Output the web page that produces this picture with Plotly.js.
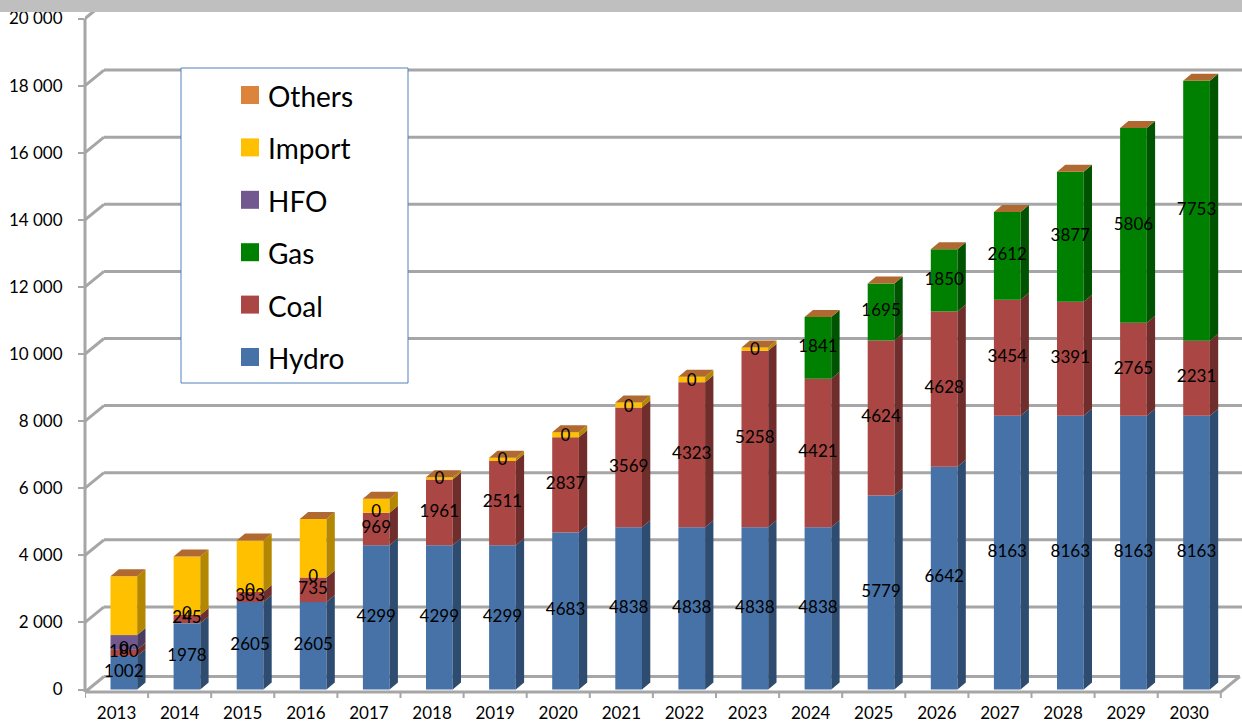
<!DOCTYPE html>
<html>
<head>
<meta charset="utf-8">
<script src="https://cdn.plot.ly/plotly-3.0.1.min.js"></script>
<style>
  html, body { margin: 0; padding: 0; background: #ffffff; }
  #chart { width: 1242px; height: 724px; }
</style>
</head>
<body>
<div id="chart"></div>
<script>
// Installed capacity by source, MW (stacked bottom to top: Hydro, Coal, Gas, HFO, Import, Others)
const years   = [2013, 2014, 2015, 2016, 2017, 2018, 2019, 2020, 2021, 2022, 2023, 2024, 2025, 2026, 2027, 2028, 2029, 2030];
const hydro   = [1002, 1978, 2605, 2605, 4299, 4299, 4299, 4683, 4838, 4838, 4838, 4838, 5779, 6642, 8163, 8163, 8163, 8163];
const coal    = [180, 245, 303, 735, 969, 1961, 2511, 2837, 3569, 4323, 5258, 4421, 4624, 4628, 3454, 3391, 2765, 2231];
const gas     = [0, 0, 0, 0, 0, 0, 0, 0, 0, 0, 0, 1841, 1695, 1850, 2612, 3877, 5806, 7753];
const hfo     = [440, 0, 0, 0, 0, 0, 0, 0, 0, 0, 0, 0, 0, 0, 0, 0, 0, 0];
const imports = [1750, 1740, 1530, 1740, 420, 70, 100, 150, 150, 160, 100, 0, 0, 0, 0, 0, 0, 0];
const others  = [0, 0, 0, 0, 0, 0, 0, 0, 0, 0, 0, 0, 0, 0, 0, 0, 0, 0];
const yTicks  = [0, 2000, 4000, 6000, 8000, 10000, 12000, 14000, 16000, 18000, 20000];

// Page geometry (pixels) and the pseudo-3D depth of bars and walls
const W = 1242, H = 724;
const LEFT = 85, PLOT_BOTTOM = 700;
const PX_PER_YEAR = 63.1, PX_PER_MW = 0.03355, ZERO_PX = 689.5;
const xu = px => px / PX_PER_YEAR;      // pixel length -> x units
const yu = px => px / PX_PER_MW;        // pixel length -> y units
const px2x = px => (px - LEFT) / (W - LEFT);
const py2y = py => (PLOT_BOTTOM - py) / PLOT_BOTTOM;

const X_MIN = years[0] - 0.5;
const X_MAX = X_MIN + xu(W - LEFT);
const Y_MIN = -yu(PLOT_BOTTOM - ZERO_PX);
const Y_MAX = yu(ZERO_PX);

const BAR_W = xu(26.7);
const BAR_OFF = xu(7.3) - BAR_W / 2;
const SIDE_DX = xu(8.3), SIDE_DY = yu(7);
const WALL_DX = xu(19), WALL_DY = yu(15.5);
const FLOOR_V = -yu(2.5);

const FONT = 'Lato, "Open Sans", "DejaVu Sans", sans-serif';

const series = [
  { name: 'Hydro',  values: hydro,   front: '#4672A8', side: '#2E4B70', label: true },
  { name: 'Coal',   values: coal,    front: '#AA4643', side: '#6F2D2C', label: true },
  { name: 'Gas',    values: gas,     front: '#008000', side: '#005300', label: true },
  { name: 'HFO',    values: hfo,     front: '#71588F', side: '#4A3A5F', label: false },
  { name: 'Import', values: imports, front: '#FFC000', side: '#B38700', label: false },
  { name: 'Others', values: others,  front: '#DB843D', side: '#955A29', label: false }
];
const TOP_FACE = '#B06A31';

const traces = [];
const bases = years.map(() => 0);
const labelX = [], labelY = [], labelT = [];

series.forEach(s => {
  // front faces
  traces.push({
    type: 'bar', x: years, y: s.values, base: bases.slice(),
    width: BAR_W, offset: BAR_OFF,
    marker: { color: s.front, line: { width: 0 } },
    name: s.name, showlegend: false, hoverinfo: 'skip'
  });
  // right-hand side faces
  const sx = [], sy = [];
  years.forEach((yr, i) => {
    const b = bases[i], t = b + s.values[i];
    if (s.values[i] > 0) {
      const xr = yr + BAR_OFF + BAR_W;
      sx.push(xr, xr + SIDE_DX, xr + SIDE_DX, xr, xr, null);
      sy.push(b, b + SIDE_DY, t + SIDE_DY, t, b, null);
    }
    if (s.label) {
      labelX.push(yr + BAR_OFF + BAR_W / 2);
      labelY.push(b + s.values[i] / 2);
      labelT.push(String(s.values[i]));
    }
  });
  traces.push({
    type: 'scatter', mode: 'lines', x: sx, y: sy, fill: 'toself',
    fillcolor: s.side, line: { width: 0 }, showlegend: false, hoverinfo: 'skip'
  });
  years.forEach((yr, i) => { bases[i] += s.values[i]; });
});

// top faces of the stacks
const tx = [], ty = [];
years.forEach((yr, i) => {
  const t = bases[i], xl = yr + BAR_OFF, xr = xl + BAR_W;
  tx.push(xl, xr, xr + SIDE_DX, xl + SIDE_DX, xl, null);
  ty.push(t, t, t + SIDE_DY, t + SIDE_DY, t, null);
});
traces.push({
  type: 'scatter', mode: 'lines', x: tx, y: ty, fill: 'toself',
  fillcolor: TOP_FACE, line: { width: 0 }, showlegend: false, hoverinfo: 'skip'
});

// value labels
traces.push({
  type: 'scatter', mode: 'text', x: labelX, y: labelY, text: labelT,
  textposition: 'middle center', cliponaxis: false,
  textfont: { family: FONT, size: 17, color: '#000000' },
  showlegend: false, hoverinfo: 'skip'
});

// walls, floor and axis lines
const GRID = { color: '#a6a6a6', width: 3 };
const shapes = [];
const X_END = years[years.length - 1] + 0.5;
yTicks.forEach(v => {
  const front = v === 0 ? FLOOR_V : v;
  shapes.push({ type: 'line', layer: 'below', xref: 'x', yref: 'y',
    x0: X_MIN, y0: front, x1: X_MIN + WALL_DX, y1: front + WALL_DY, line: GRID });
  shapes.push({ type: 'line', layer: 'below', xref: 'x', yref: 'y',
    x0: X_MIN + WALL_DX, y0: front + WALL_DY,
    x1: v === 0 ? X_END + WALL_DX : X_MAX,
    y1: front + WALL_DY, line: GRID });
});
shapes.push({ type: 'line', layer: 'below', xref: 'x', yref: 'y',
  x0: X_END, y0: FLOOR_V, x1: X_END + WALL_DX, y1: FLOOR_V + WALL_DY, line: GRID });
shapes.push({ type: 'line', layer: 'below', xref: 'x', yref: 'y',
  x0: X_MIN, y0: FLOOR_V, x1: X_END, y1: FLOOR_V, line: GRID });
years.forEach(yr => {
  shapes.push({ type: 'line', layer: 'below', xref: 'x', yref: 'y',
    x0: yr - 0.5, y0: FLOOR_V, x1: yr - 0.5, y1: FLOOR_V - yu(6), line: { color: '#a6a6a6', width: 2 } });
});
shapes.push({ type: 'line', layer: 'below', xref: 'x', yref: 'y',
  x0: X_END, y0: FLOOR_V, x1: X_END, y1: FLOOR_V - yu(6), line: { color: '#a6a6a6', width: 2 } });
shapes.push({ type: 'line', layer: 'below', xref: 'paper', yref: 'y',
  x0: 0, x1: 0, y0: FLOOR_V, y1: yTicks[yTicks.length - 1], line: GRID });

// grey band along the top edge
shapes.push({ type: 'rect', layer: 'above', xref: 'paper', yref: 'paper',
  x0: px2x(0), x1: 1, y0: py2y(12), y1: 1, fillcolor: '#bfbfbf', line: { width: 0 } });

// legend box
shapes.push({ type: 'rect', layer: 'above', xref: 'paper', yref: 'paper',
  x0: px2x(181), x1: px2x(408), y0: py2y(383), y1: py2y(68),
  fillcolor: '#ffffff', line: { color: '#4F81BD', width: 1 } });

const annotations = [];
const legendOrder = series.slice().reverse();
legendOrder.forEach((s, k) => {
  const cy = 95 + k * 52.4;
  shapes.push({ type: 'rect', layer: 'above', xref: 'paper', yref: 'paper',
    x0: px2x(241), x1: px2x(259), y0: py2y(cy + 9), y1: py2y(cy - 9),
    fillcolor: s.name === 'Others' ? '#DD843C' : s.front, line: { width: 0 } });
  annotations.push({ xref: 'paper', yref: 'paper', x: px2x(266), y: py2y(cy + 1),
    xanchor: 'left', yanchor: 'middle', showarrow: false, text: s.name,
    font: { family: FONT, size: 28, color: '#000000' } });
});

const layout = {
  width: W, height: H,
  margin: { l: LEFT, r: 0, t: 0, b: H - PLOT_BOTTOM, pad: 0 },
  paper_bgcolor: '#ffffff', plot_bgcolor: '#ffffff',
  barmode: 'overlay',
  separators: '. ',
  showlegend: false,
  font: { family: FONT, color: '#000000' },
  xaxis: {
    type: 'linear', range: [X_MIN, X_MAX], fixedrange: true,
    tickmode: 'array', tickvals: years, ticktext: years.map(String),
    ticks: '', showgrid: false, zeroline: false, showline: false,
    tickfont: { family: FONT, size: 17, color: '#000000' },
    ticklabelstandoff: 1
  },
  yaxis: {
    range: [Y_MIN, Y_MAX], fixedrange: true,
    tickmode: 'array', tickvals: yTicks, tickformat: ',d',
    ticks: 'outside', ticklen: 6, tickwidth: 2, tickcolor: '#a6a6a6',
    showgrid: false, zeroline: false, showline: false,
    tickfont: { family: FONT, size: 17, color: '#000000' },
    ticklabelstandoff: 12
  },
  shapes: shapes,
  annotations: annotations
};

Plotly.newPlot('chart', traces, layout, { displayModeBar: false, staticPlot: true });
</script>
</body>
</html>
